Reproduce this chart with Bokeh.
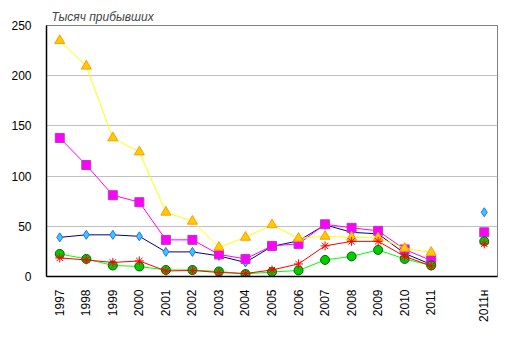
import math
import numpy as np
from bokeh.plotting import figure
from bokeh.models import ColumnDataSource, Legend, LegendItem, FixedTicker, Range1d, FactorRange
from bokeh.embed import file_html
from bokeh.resources import INLINE

years = ["1997", "1998", "1999", "2000", "2001", "2002", "2003", "2004", "2005",
         "2006", "2007", "2008", "2009", "2010", "2011", " ", "2011н"]
nan = float("nan")
uzbekistan = [39, 41.5, 41.5, 40, 24.5, 24.5, 20.5, 14, 30, 35.5, 51.5, 44, 42.5, 23, 12, nan, 64]
ukraine = [138, 111, 81, 74, 36.5, 36.5, 22, 17.5, 30.5, 32.5, 52, 48.5, 45.5, 27, 16, nan, 44]
kazakhstan = [235, 209.5, 138, 124, 64, 55, 29, 39, 51.5, 38, 40, 39, 38.5, 28, 24, nan, nan]
tajikistan = [22.5, 17.5, 11, 10, 6.5, 6.5, 5, 2.5, 4.5, 6, 16.5, 20, 26.5, 17.5, 11, nan, 35]
armenia = [18.5, 16.5, 14, 15.5, 5.5, 6, 4, 3, 6.5, 12.5, 30.5, 35, 35, 20, 10.5, nan, 32.5]
y_ticks = [0, 50, 100, 150, 200, 250]
title_text = "Тысяч прибывших"

src = ColumnDataSource(dict(x=years, uz=uzbekistan, ua=ukraine, kz=kazakhstan,
                            tj=tajikistan, am=armenia))

FONT = "Liberation Sans"
p = figure(frame_width=451, frame_height=251, x_range=FactorRange(*years, range_padding=0),
           y_range=Range1d(0, 250), output_backend="svg", toolbar_location=None,
           min_border_left=46, min_border_right=18, min_border_top=25, min_border_bottom=78)

p.title.text = title_text
p.title.text_font = FONT
p.title.text_font_size = "12px"
p.title.text_font_style = "italic"
p.title.offset = 5
p.title.standoff = 3

p.outline_line_color = "#808080"
p.xgrid.grid_line_color = None
p.ygrid.grid_line_color = "#C0C0C0"
p.ygrid.ticker = FixedTicker(ticks=y_ticks)
p.yaxis.ticker = FixedTicker(ticks=y_ticks)

for ax in (p.xaxis, p.yaxis):
    ax.axis_line_color = "black"
    ax.axis_line_width = 1.5
    ax.major_tick_line_color = None
    ax.minor_tick_line_color = None
    ax.major_label_text_font = FONT
    ax.major_label_text_font_size = "12px"
    ax.major_label_text_color = "black"
p.yaxis.major_label_standoff = 9
p.xaxis.major_label_standoff = 7
p.xaxis.major_label_orientation = math.pi / 2

series = [
    ("uz", "Узбекистан", "#000080", "diamond", "#33CCFF", "#3366FF", 9),
    ("ua", "Украина", "#FF00FF", "square", "#FF00FF", "#B040B0", 9),
    ("kz", "Казахстан", "#FFFF00", "triangle", "#FFCC00", "#FF9900", 10),
    ("tj", "Таджикистан", "#00FF00", "circle", "#00CC00", "#006600", 9),
    ("am", "Армения", "#FF0000", "asterisk", "#FF0000", "#FF0000", 9),
]
items = []
for col, name, lc, marker, fc, mlc, sz in series:
    l = p.line("x", col, source=src, line_color=lc, line_width=1)
    s = p.scatter("x", col, source=src, marker=marker, size=sz, fill_color=fc,
                  line_color=mlc, line_width=1)
    items.append(LegendItem(label=name, renderers=[l, s]))

legend = Legend(items=items, orientation="horizontal", location="center",
                border_line_color=None, background_fill_alpha=0,
                label_text_font=FONT, label_text_font_size="12px",
                glyph_width=26, glyph_height=14, label_standoff=3, spacing=8,
                padding=0, margin=14)
p.add_layout(legend, "below")

open("out.html", "w").write(file_html(p, INLINE))
